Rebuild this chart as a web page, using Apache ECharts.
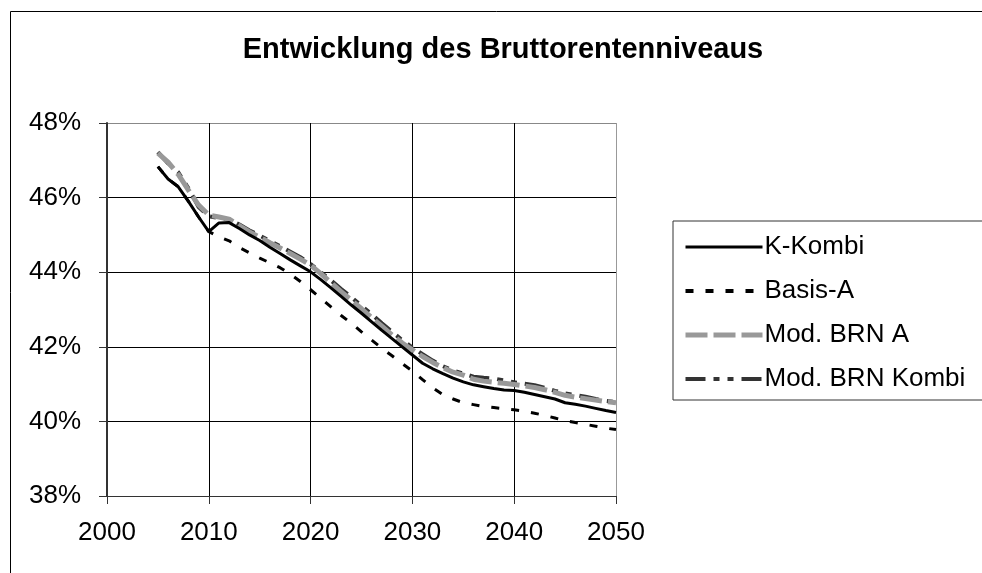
<!DOCTYPE html>
<html lang="de">
<head>
<meta charset="UTF-8" />
<title>Entwicklung des Bruttorentenniveaus</title>
</head>
<body>
<style>
* {
  margin: 0;
  padding: 0;
}
#chartEl {
  width: 982px;
  height: 573px;
  background-color: #fff;
}
</style>
<div id="chartEl"></div>
<script src="https://cdn.jsdelivr.net/npm/echarts@6/dist/echarts.min.js"></script>
<script>
// Jahre 2005 - 2050
const years = [];
for (let y = 2005; y <= 2050; y++) years.push(y);

const kKombi = [
  46.83, 46.50, 46.29, 45.90, 45.48, 45.09, 45.32, 45.33, 45.17, 45.00,
  44.85, 44.67, 44.50, 44.33, 44.17, 44.01, 43.80, 43.58, 43.35, 43.12,
  42.90, 42.67, 42.44, 42.22, 42.00, 41.78, 41.56, 41.41, 41.28, 41.16,
  41.06, 40.98, 40.93, 40.88, 40.84, 40.83, 40.78, 40.72, 40.66, 40.60,
  40.50, 40.46, 40.41, 40.35, 40.29, 40.24
];
const basisA = [
  46.83, 46.50, 46.29, 45.90, 45.48, 45.09, 44.95, 44.84, 44.66, 44.52,
  44.38, 44.25, 44.12, 43.95, 43.75, 43.53, 43.30, 43.07, 42.84, 42.63,
  42.40, 42.18, 41.96, 41.76, 41.55, 41.35, 41.12, 40.90, 40.72, 40.60,
  40.50, 40.45, 40.40, 40.37, 40.34, 40.31, 40.27, 40.22, 40.16, 40.09,
  40.02, 39.97, 39.92, 39.87, 39.82, 39.78
];
const modBrnA = [
  47.19, 46.95, 46.62, 46.20, 45.80, 45.53, 45.48, 45.42, 45.25, 45.08,
  44.94, 44.79, 44.65, 44.50, 44.35, 44.19, 43.96, 43.72, 43.48, 43.25,
  43.02, 42.78, 42.55, 42.32, 42.10, 41.92, 41.74, 41.58, 41.44, 41.32,
  41.24, 41.13, 41.08, 41.05, 41.02, 40.99, 40.95, 40.91, 40.85, 40.78,
  40.70, 40.65, 40.61, 40.57, 40.53, 40.50
];
const modBrnKombi = [
  47.22, 46.92, 46.68, 46.25, 45.75, 45.50, 45.45, 45.42, 45.28, 45.12,
  44.98, 44.84, 44.70, 44.55, 44.40, 44.22, 44.00, 43.78, 43.55, 43.33,
  43.10, 42.87, 42.63, 42.40, 42.18, 41.98, 41.80, 41.63, 41.48, 41.36,
  41.28, 41.20, 41.17, 41.15, 41.10, 41.05, 41.01, 40.97, 40.90, 40.82,
  40.75, 40.71, 40.66, 40.60, 40.55, 40.52
];

const fontFamily = "'Liberation Sans', Arial, sans-serif";

function pairs(values) {
  return years.map((y, i) => [y, values[i]]);
}

function lineSeries(name, values, color, width, dash, z) {
  return {
    name: name,
    type: 'line',
    data: pairs(values),
    symbol: 'none',
    smooth: false,
    z: z,
    lineStyle: {
      color: color,
      width: width,
      type: dash,
      cap: 'butt',
    },
    itemStyle: { color: color },
  };
}

const myChart = echarts.init(document.getElementById('chartEl'));
myChart.setOption({
  animation: false,
  backgroundColor: '#fff',
  textStyle: { fontFamily: fontFamily },
  graphic: [
    {
      type: 'rect',
      left: 8,
      top: 9,
      shape: { width: 1100, height: 1000 },
      style: { fill: 'none', stroke: '#000', lineWidth: 1 },
      silent: true,
    },
  ],
  title: {
    text: 'Entwicklung des Bruttorentenniveaus',
    left: 498,
    top: 30,
    textAlign: 'center',
    textStyle: {
      fontFamily: fontFamily,
      fontSize: 29,
      fontWeight: 'bold',
      color: '#000',
    },
  },
  legend: {
    orient: 'vertical',
    left: 673,
    top: 221,
    padding: [13, 40, 8, 10],
    borderColor: '#333',
    borderWidth: 1,
    backgroundColor: '#fff',
    itemWidth: 77,
    itemHeight: 10,
    itemGap: 18,
    selectedMode: false,
    itemStyle: { opacity: 0 },
    textStyle: {
      fontFamily: fontFamily,
      fontSize: 26,
      color: '#000',
      padding: [0, 0, 0, -3],
    },
    data: [
      { name: 'K-Kombi', lineStyle: { width: 3 } },
      { name: 'Basis-A', lineStyle: { width: 4 } },
      { name: 'Mod. BRN A', lineStyle: { width: 5 } },
      { name: 'Mod. BRN Kombi', lineStyle: { width: 4 } },
    ],
  },
  grid: {
    left: 107,
    right: 366,
    top: 123,
    bottom: 77,
    containLabel: false,
  },
  xAxis: {
    type: 'value',
    min: 2000,
    max: 2050,
    interval: 10,
    axisLine: { lineStyle: { color: '#333', width: 1 } },
    axisTick: { show: true, length: 8, lineStyle: { color: '#333' } },
    axisLabel: {
      color: '#000',
      fontSize: 26,
      fontFamily: fontFamily,
      margin: 24,
      formatter: v => String(v),
    },
    splitLine: {
      show: true,
      lineStyle: {
        color: ['#000', '#000', '#000', '#000', '#000', '#999'],
        width: 1,
      },
    },
  },
  yAxis: {
    type: 'value',
    min: 38,
    max: 48,
    interval: 2,
    axisLine: { show: true, lineStyle: { color: '#333', width: 2 } },
    axisTick: { show: true, length: 8, lineStyle: { color: '#333' } },
    axisLabel: {
      color: '#000',
      fontSize: 26,
      fontFamily: fontFamily,
      margin: 26,
      formatter: '{value}%',
    },
    splitLine: {
      show: true,
      lineStyle: {
        color: ['#000', '#000', '#000', '#000', '#000', '#888'],
        width: 1,
      },
    },
  },
  series: [
    lineSeries('K-Kombi', kKombi, '#000', 3, 'solid', 4),
    lineSeries('Basis-A', basisA, '#000', 3, [8, 12], 3),
    lineSeries('Mod. BRN A', modBrnA, '#999', 5, [22, 6], 2),
    lineSeries('Mod. BRN Kombi', modBrnKombi, '#333', 4, [20, 8, 6, 8, 6, 8], 1),
  ],
});
</script>
</body>
</html>
